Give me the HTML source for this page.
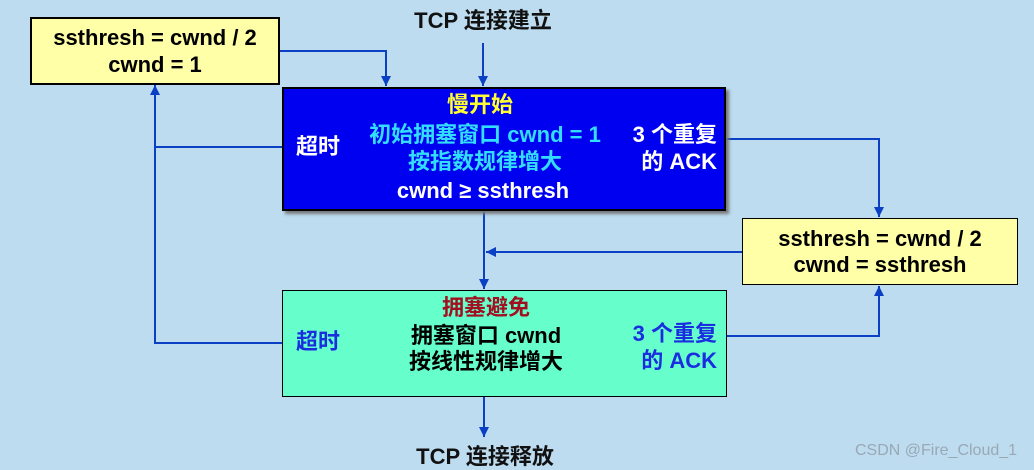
<!DOCTYPE html>
<html><head><meta charset="utf-8"><style>
body{margin:0;width:1034px;height:470px;background:#bddcf0;overflow:hidden;position:relative;font-family:"Liberation Sans","Noto Sans CJK SC",sans-serif;font-weight:bold}
.b{position:absolute;box-sizing:border-box}
.t{position:absolute;white-space:nowrap;font-size:22px;line-height:24px;transform:translate(-50%,-50%)}
.r{position:absolute;white-space:nowrap;font-size:22px;line-height:27px;text-align:right}
</style></head><body>
<svg width="1034" height="470" style="position:absolute;left:0;top:0">
<defs><marker id="a" viewBox="0 0 10 10" refX="10" refY="5" markerWidth="15" markerHeight="10" orient="auto" markerUnits="userSpaceOnUse"><path d="M0,0L10,5L0,10z" fill="#0b3fc4"/></marker></defs>
<g stroke="#0b3fc4" stroke-width="2" fill="none">
<path d="M483,43V86" marker-end="url(#a)"/>
<path d="M280,51H386V86" marker-end="url(#a)"/>
<path d="M282,147H155"/>
<path d="M282,343H155V85" marker-end="url(#a)"/>
<path d="M726,139H879V217" marker-end="url(#a)"/>
<path d="M727,336H879V286" marker-end="url(#a)"/>
<path d="M742,252H486" marker-end="url(#a)"/>
<path d="M484,211V289" marker-end="url(#a)"/>
<path d="M484,397V437" marker-end="url(#a)"/>
</g></svg>
<div class="b" style="left:30px;top:17px;width:250px;height:68px;background:#ffffa8;border:2px solid #000"></div>
<div class="b" style="left:282px;top:87px;width:444px;height:124px;background:#0000f0;border:2px solid #000;box-shadow:3px 3px 3px #777"></div>
<div class="b" style="left:742px;top:218px;width:276px;height:67px;background:#ffffa8;border:1.5px solid #000"></div>
<div class="b" style="left:282px;top:290px;width:445px;height:107px;background:#66ffcc;border:1.5px solid #000"></div>
<div class="t" style="left:483px;top:21px;color:#111">TCP 连接建立</div>
<div class="t" style="left:155px;top:38px;color:#000">ssthresh = cwnd / 2</div>
<div class="t" style="left:155px;top:65px;color:#000">cwnd = 1</div>
<div class="t" style="left:480px;top:105px;color:#ffff33">慢开始</div>
<div class="t" style="left:485px;top:135px;color:#33ddff">初始拥塞窗口 cwnd = 1</div>
<div class="t" style="left:485px;top:162px;color:#33ddff">按指数规律增大</div>
<div class="t" style="left:483px;top:191px;color:#fff">cwnd ≥ ssthresh</div>
<div class="t" style="left:318px;top:147px;color:#fff">超时</div>
<div class="r" style="right:317px;top:121px;color:#fff">3 个重复<br>的 ACK</div>
<div class="t" style="left:880px;top:239px;color:#000">ssthresh = cwnd / 2</div>
<div class="t" style="left:880px;top:265px;color:#000">cwnd = ssthresh</div>
<div class="t" style="left:486px;top:308px;color:#a01020">拥塞避免</div>
<div class="t" style="left:486px;top:336px;color:#000">拥塞窗口 cwnd</div>
<div class="t" style="left:486px;top:362px;color:#000">按线性规律增大</div>
<div class="t" style="left:318px;top:342px;color:#1a2ee0">超时</div>
<div class="r" style="right:317px;top:320px;color:#1a2ee0">3 个重复<br>的 ACK</div>
<div class="t" style="left:485px;top:457px;color:#111">TCP 连接释放</div>
<div class="t" style="left:936px;top:451px;font-size:16px;font-weight:normal;color:#9aa8b4">CSDN @Fire_Cloud_1</div>
</body></html>
